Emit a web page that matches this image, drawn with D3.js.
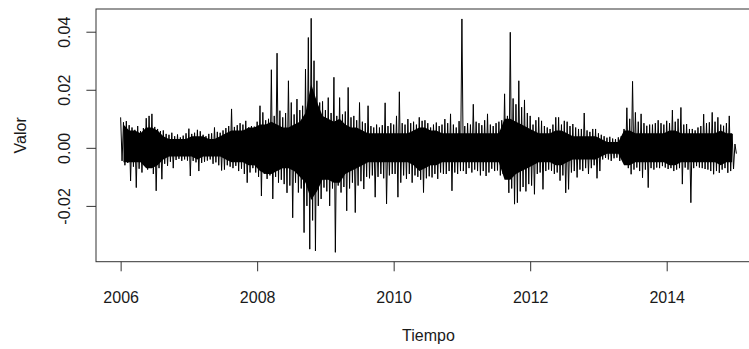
<!DOCTYPE html>
<html>
<head>
<meta charset="utf-8">
<script src="https://cdn.jsdelivr.net/npm/d3@7/dist/d3.min.js"></script>
<style>
  html, body { margin: 0; padding: 0; background: #fff; }
  svg { display: block; }
  text { font-family: "Liberation Sans", Arial, sans-serif; font-size: 16px; fill: #1a1a1a; }
</style>
</head>
<body>
<script>
// Values, 48 samples per year (index i -> year + i/48)
const r2006 = [0.0105, -0.0045, 0.0088, -0.0060, 0.0092, -0.0052, 0.0078, -0.0114, 0.0070, -0.0065, 0.0062, -0.0137,
  0.0075, -0.0072, 0.0058, -0.0085, 0.0068, -0.0060, 0.0102, -0.0075, 0.0110, -0.0068, 0.0117, -0.0090,
  0.0072, -0.0148, 0.0065, -0.0070, 0.0058, -0.0108, 0.0060, -0.0055, 0.0048, -0.0062, 0.0045, -0.0048,
  0.0052, -0.0070, 0.0040, -0.0042, 0.0046, -0.0038, 0.0036, -0.0045, 0.0042, -0.0040, 0.0050, -0.0044];
const r2007 = [0.0066, -0.0097, 0.0048, -0.0045, 0.0052, -0.0050, 0.0062, -0.0080, 0.0057, -0.0052, 0.0045, -0.0048,
  0.0040, -0.0044, 0.0048, -0.0040, 0.0050, -0.0055, 0.0070, -0.0050, 0.0055, -0.0060, 0.0052, -0.0078,
  0.0060, -0.0075, 0.0068, -0.0060, 0.0075, -0.0065, 0.0134, -0.0070, 0.0072, -0.0062, 0.0078, -0.0080,
  0.0085, -0.0072, 0.0080, -0.0090, 0.0093, -0.0120, 0.0070, -0.0085, 0.0075, -0.0070, 0.0073, -0.0085];
const r2008 = [0.0090, -0.0100, 0.0145, -0.0166, 0.0122, -0.0090, 0.0095, -0.0107, 0.0100, -0.0095, 0.0269, -0.0176,
  0.0110, -0.0100, 0.0326, -0.0120, 0.0128, -0.0110, 0.0105, -0.0125, 0.0120, -0.0155, 0.0231, -0.0130,
  0.0156, -0.0241, 0.0115, -0.0120, 0.0168, -0.0154, 0.0130, -0.0140, 0.0145, -0.0292, 0.0271, -0.0200,
  0.0380, -0.0349, 0.0446, -0.0250, 0.0300, -0.0355, 0.0231, -0.0200, 0.0156, -0.0176, 0.0160, -0.0137];
const r2009 = [0.0130, -0.0150, 0.0173, -0.0200, 0.0120, -0.0140, 0.0243, -0.0360, 0.0110, -0.0130, 0.0173, -0.0154,
  0.0115, -0.0135, 0.0125, -0.0217, 0.0208, -0.0140, 0.0105, -0.0120, 0.0110, -0.0223, 0.0095, -0.0130,
  0.0156, -0.0115, 0.0090, -0.0142, 0.0085, -0.0100, 0.0145, -0.0105, 0.0075, -0.0095, 0.0070, -0.0170,
  0.0080, -0.0100, 0.0070, -0.0090, 0.0078, -0.0105, 0.0155, -0.0193, 0.0075, -0.0095, 0.0085, -0.0090];
const r2010 = [0.0080, -0.0090, 0.0110, -0.0170, 0.0193, -0.0120, 0.0085, -0.0095, 0.0080, -0.0107, 0.0099, -0.0090,
  0.0085, -0.0120, 0.0090, -0.0095, 0.0080, -0.0100, 0.0105, -0.0110, 0.0093, -0.0154, 0.0095, -0.0105,
  0.0085, -0.0098, 0.0070, -0.0102, 0.0080, -0.0090, 0.0087, -0.0107, 0.0075, -0.0085, 0.0080, -0.0090,
  0.0099, -0.0090, 0.0085, -0.0080, 0.0117, -0.0148, 0.0080, -0.0085, 0.0070, -0.0090, 0.0092, -0.0080];
const r2011 = [0.0444, -0.0080, 0.0075, -0.0090, 0.0085, -0.0070, 0.0080, -0.0085, 0.0150, -0.0075, 0.0090, -0.0080,
  0.0085, -0.0095, 0.0078, -0.0080, 0.0095, -0.0097, 0.0117, -0.0085, 0.0080, -0.0072, 0.0075, -0.0080,
  0.0085, -0.0078, 0.0090, -0.0095, 0.0095, -0.0090, 0.0186, -0.0100, 0.0110, -0.0155, 0.0398, -0.0140,
  0.0170, -0.0194, 0.0150, -0.0189, 0.0231, -0.0150, 0.0140, -0.0135, 0.0165, -0.0150, 0.0120, -0.0125];
const r2012 = [0.0110, -0.0130, 0.0080, -0.0160, 0.0095, -0.0090, 0.0105, -0.0085, 0.0093, -0.0143, 0.0075, -0.0080,
  0.0070, -0.0075, 0.0065, -0.0079, 0.0080, -0.0090, 0.0105, -0.0085, 0.0105, -0.0113, 0.0080, -0.0095,
  0.0093, -0.0155, 0.0090, -0.0143, 0.0075, -0.0085, 0.0082, -0.0080, 0.0070, -0.0102, 0.0065, -0.0075,
  0.0065, -0.0080, 0.0120, -0.0070, 0.0060, -0.0090, 0.0055, -0.0070, 0.0065, -0.0060, 0.0065, -0.0105];
const r2013 = [0.0050, -0.0080, 0.0045, -0.0040, 0.0040, -0.0035, 0.0035, -0.0040, 0.0038, -0.0045, 0.0032, -0.0036,
  0.0030, -0.0034, 0.0036, -0.0045, 0.0040, -0.0038, 0.0065, -0.0055, 0.0138, -0.0070, 0.0100, -0.0091,
  0.0229, -0.0075, 0.0122, -0.0068, 0.0090, -0.0080, 0.0117, -0.0103, 0.0085, -0.0075, 0.0076, -0.0137,
  0.0080, -0.0070, 0.0080, -0.0075, 0.0085, -0.0068, 0.0095, -0.0070, 0.0085, -0.0063, 0.0080, -0.0068];
const r2014 = [0.0093, -0.0073, 0.0085, -0.0070, 0.0130, -0.0080, 0.0090, -0.0075, 0.0100, -0.0070, 0.0139, -0.0125,
  0.0080, -0.0068, 0.0082, -0.0075, 0.0065, -0.0189, 0.0065, -0.0070, 0.0060, -0.0063, 0.0070, -0.0068,
  0.0075, -0.0070, 0.0116, -0.0073, 0.0085, -0.0075, 0.0088, -0.0080, 0.0122, -0.0091, 0.0090, -0.0080,
  0.0105, -0.0086, 0.0080, -0.0075, 0.0076, -0.0070, 0.0085, -0.0086, 0.0110, -0.0080, 0.0048, -0.0073];
const r2015 = [0.0013, -0.0020];

const years = [2006, 2007, 2008, 2009, 2010, 2011, 2012, 2013, 2014, 2015];
const yearValues = [r2006, r2007, r2008, r2009, r2010, r2011, r2012, r2013, r2014, r2015];
const perYear = 48;

// solid black core of the band, month by month
const coreHigh = [
  0.008, 0.006, 0.006, 0.005, 0.007, 0.007, 0.006, 0.004, 0.003, 0.003, 0.003, 0.003,
  0.004, 0.004, 0.004, 0.003, 0.003, 0.004, 0.005, 0.006, 0.006, 0.006, 0.007, 0.007,
  0.008, 0.008, 0.009, 0.008, 0.007, 0.007, 0.008, 0.009, 0.012, 0.022, 0.016, 0.011,
  0.010, 0.009, 0.010, 0.008, 0.007, 0.007, 0.006, 0.005, 0.005, 0.005, 0.005, 0.005,
  0.005, 0.005, 0.005, 0.006, 0.007, 0.007, 0.006, 0.006, 0.005, 0.005, 0.005, 0.005,
  0.005, 0.005, 0.005, 0.005, 0.005, 0.005, 0.005, 0.010, 0.010, 0.009, 0.008, 0.007,
  0.006, 0.005, 0.005, 0.005, 0.006, 0.006, 0.005, 0.004, 0.004, 0.004, 0.004, 0.004,
  0.003, 0.002, 0.002, 0.002, 0.006, 0.006, 0.005, 0.005, 0.005, 0.005, 0.005, 0.005,
  0.006, 0.006, 0.005, 0.005, 0.005, 0.005, 0.005, 0.005, 0.005, 0.006, 0.005, 0.005];
const coreLow = [
  -0.005, -0.005, -0.005, -0.005, -0.007, -0.007, -0.006, -0.004, -0.003, -0.003, -0.003, -0.003,
  -0.003, -0.004, -0.003, -0.003, -0.003, -0.003, -0.004, -0.005, -0.005, -0.005, -0.006, -0.006,
  -0.008, -0.009, -0.009, -0.008, -0.007, -0.007, -0.008, -0.010, -0.012, -0.018, -0.015, -0.011,
  -0.011, -0.012, -0.012, -0.009, -0.008, -0.007, -0.006, -0.005, -0.005, -0.005, -0.005, -0.005,
  -0.005, -0.005, -0.005, -0.006, -0.008, -0.007, -0.006, -0.006, -0.005, -0.005, -0.005, -0.005,
  -0.005, -0.005, -0.005, -0.005, -0.005, -0.005, -0.005, -0.011, -0.011, -0.009, -0.008, -0.007,
  -0.006, -0.005, -0.005, -0.005, -0.006, -0.006, -0.005, -0.004, -0.004, -0.004, -0.004, -0.004,
  -0.003, -0.002, -0.002, -0.002, -0.006, -0.006, -0.005, -0.005, -0.005, -0.005, -0.005, -0.005,
  -0.006, -0.006, -0.005, -0.005, -0.005, -0.005, -0.005, -0.005, -0.005, -0.006, -0.005, -0.005];
const coreStart = 2006;

const xTicks = [2006, 2008, 2010, 2012, 2014];
const yTicks = [-0.02, 0, 0.02, 0.04];

const W = 749, H = 349;
// plot region (R style box; right edge falls outside the picture)
const box = { left: 96, top: 9, right: 761, bottom: 261.7 };

const pts = [];
years.forEach((yr, k) => {
  yearValues[k].forEach((v, i) => pts.push({ t: yr + i / perYear, v }));
});
const core = coreHigh.map((hi, m) => ({ t: coreStart + (m + 0.5) / 12, hi, lo: coreLow[m] }));

// R pads the data range by 4% on each side
function padded(ext) {
  const p = (ext[1] - ext[0]) * 0.04;
  return [ext[0] - p, ext[1] + p];
}

const x = d3.scaleLinear().domain(padded(d3.extent(pts, (d) => d.t))).range([box.left, box.right]);
const y = d3.scaleLinear().domain(padded(d3.extent(pts, (d) => d.v))).range([box.bottom, box.top]);

const svg = d3.select('body').append('svg')
  .attr('width', W)
  .attr('height', H);

// dense core drawn as a filled band, the sampled line carries the spikes
const area = d3.area()
  .x((d) => x(d.t))
  .y0((d) => y(d.lo))
  .y1((d) => y(d.hi));

svg.append('path')
  .datum(core)
  .attr('fill', '#000')
  .attr('d', area);

const line = d3.line()
  .x((d) => x(d.t))
  .y((d) => y(d.v));

svg.append('path')
  .datum(pts)
  .attr('fill', 'none')
  .attr('stroke', '#000')
  .attr('stroke-width', 1)
  .attr('d', line);

// frame
svg.append('rect')
  .attr('x', box.left)
  .attr('y', box.top)
  .attr('width', box.right - box.left)
  .attr('height', box.bottom - box.top)
  .attr('fill', 'none')
  .attr('stroke', '#333')
  .attr('stroke-width', 1);

const tick = 9.6;

const gx = svg.append('g')
  .attr('transform', `translate(0,${box.bottom})`)
  .call(d3.axisBottom(x).tickValues(xTicks).tickFormat((d) => String(d)).tickSize(tick).tickSizeOuter(0));
gx.select('.domain').remove();
gx.selectAll('line').attr('stroke', '#333');
gx.selectAll('text')
  .attr('y', 41.5)
  .attr('dy', null)
  .attr('fill', '#1a1a1a')
  .style('font-size', '16px')
  .style('font-family', '"Liberation Sans", Arial, sans-serif');

const gy = svg.append('g')
  .attr('transform', `translate(${box.left},0)`)
  .call(d3.axisLeft(y).tickValues(yTicks).tickFormat((d) => d.toFixed(2)).tickSize(tick).tickSizeOuter(0));
gy.select('.domain').remove();
gy.selectAll('line').attr('stroke', '#333');
gy.selectAll('text')
  .attr('transform', 'rotate(-90)')
  .attr('x', 0)
  .attr('y', -26)
  .attr('dy', null)
  .attr('text-anchor', 'middle')
  .attr('fill', '#1a1a1a')
  .style('font-size', '16px')
  .style('font-family', '"Liberation Sans", Arial, sans-serif');

// axis titles
svg.append('text')
  .attr('x', (box.left + box.right) / 2)
  .attr('y', 341)
  .attr('text-anchor', 'middle')
  .text('Tiempo');

svg.append('text')
  .attr('transform', `translate(26,${(box.top + box.bottom) / 2}) rotate(-90)`)
  .attr('text-anchor', 'middle')
  .text('Valor');
</script>
</body>
</html>
